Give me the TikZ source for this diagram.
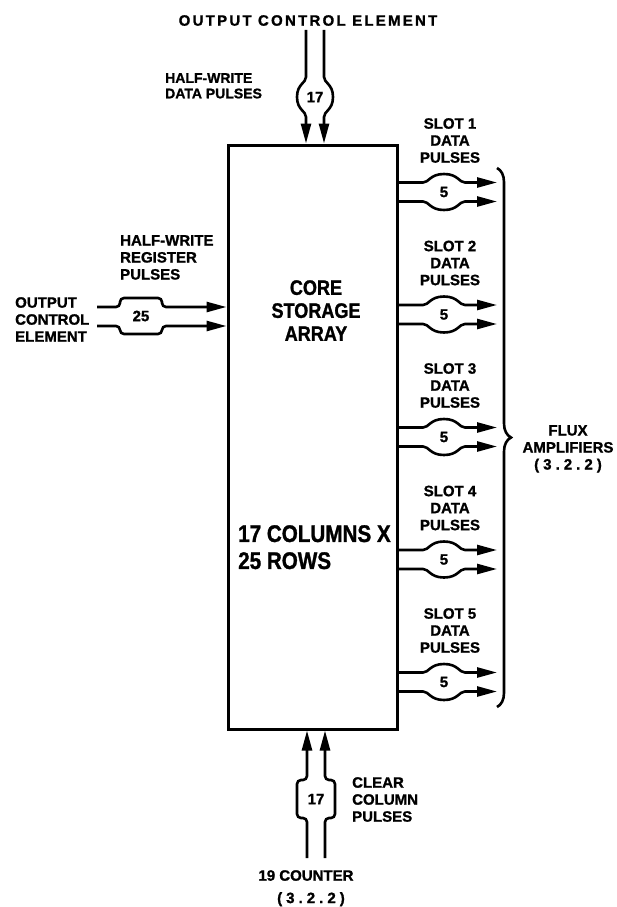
\documentclass[tikz,border=0pt]{standalone}
\usepackage{fontspec}
\setmainfont{Liberation Sans}[BoldFeatures={FakeBold=1.2}]
\newfontfamily\narrowf{Liberation Sans}[FakeStretch=0.86, BoldFeatures={FakeBold=1.2}]
\newfontfamily\spacedf{Liberation Sans}[LetterSpace=15, BoldFeatures={FakeBold=1.2}]
\newfontfamily\widef{Liberation Sans}[LetterSpace=27, BoldFeatures={FakeBold=1.2}]
\usetikzlibrary{arrows.meta,decorations.pathreplacing}
\begin{document}
\begin{tikzpicture}[x=1pt,y=-1pt,
  lab/.style={font=\fontsize{15}{17}\selectfont\bfseries, inner sep=0pt},
  smalllab/.style={font=\fontsize{14}{15.5}\selectfont\bfseries, inner sep=0pt},
  bus/.style={line width=2.6pt, -{Triangle[length=20pt,width=10pt]}},
  boxbus/.style={bus, rounded corners=4pt},
  numtext/.style={inner sep=0pt, font=\fontsize{15}{17}\selectfont\bfseries},
  bigtext/.style={font=\narrowf\fontsize{21}{23}\selectfont\bfseries, inner sep=0pt},
  hugetext/.style={font=\narrowf\fontsize{24}{27}\selectfont\bfseries, inner sep=0pt}
]
\useasboundingbox (0,0) rectangle (616,907);

% main array
\node[draw, line width=3pt, minimum width=169pt, minimum height=584pt, inner sep=0pt] (core) at (312.5,437) {};
\node[bigtext, align=center, anchor=north] (cap) at (316,280) {CORE\\STORAGE\\ARRAY};
\node[hugetext, align=left, anchor=north west] (dim) at (238,525) {17 COLUMNS X\\25 ROWS};

% top bus
\node[lab, anchor=north, font=\spacedf\fontsize{15}{17}\selectfont\bfseries] (title) at (308,15) {OUTPUT CONTROL ELEMENT};
\node[numtext] (n17t) at (315,97) {17};
\coordinate (tA) at (306,30);
\coordinate (tB) at (324,30);
\draw[bus] (tA) -- (306,77) .. controls (306,83) and (297,84) .. (297,97)
  .. controls (297,110) and (306,111) .. (306,117) -- (tA |- core.north);
\draw[bus] (tB) -- (324,77) .. controls (324,83) and (333,84) .. (333,97)
  .. controls (333,110) and (324,111) .. (324,117) -- (tB |- core.north);
\node[smalllab, align=left, anchor=north west] (hwd) at (165,73) {HALF-WRITE\\DATA PULSES};

% left bus
\node[lab, align=left, anchor=north west] (oce) at (15,297) {OUTPUT\\CONTROL\\ELEMENT};
\node[lab, align=left, anchor=north west] (hwr) at (120,235) {HALF-WRITE\\REGISTER\\PULSES};
\node[numtext] (n25) at (141,316) {25};
\coordinate (lA) at (97,307);
\coordinate (lB) at (97,326);
\draw[boxbus] (lA) -- (120,307) -- (120,298) -- (162,298) -- (162,307) -- (lA -| core.west);
\draw[boxbus] (lB) -- (120,326) -- (120,334) -- (162,334) -- (162,326) -- (lB -| core.west);

% right buses
\foreach \i/\y in {1/192,2/314.5,3/437,4/559.5,5/682}{
  \coordinate (rA\i) at (497,{\y-9.5});
  \coordinate (rB\i) at (497,{\y+9.5});
  \node[numtext] (c\i) at (444,\y) {5};
  \draw[bus] (rA\i -| core.east) -- (423,{\y-9.5})
    .. controls (429,{\y-9.5}) and (430,{\y-18}) .. (444,{\y-18})
    .. controls (458,{\y-18}) and (459,{\y-9.5}) .. (465,{\y-9.5}) -- (rA\i);
  \draw[bus] (rB\i -| core.east) -- (423,{\y+9.5})
    .. controls (429,{\y+9.5}) and (430,{\y+18}) .. (444,{\y+18})
    .. controls (458,{\y+18}) and (459,{\y+9.5}) .. (465,{\y+9.5}) -- (rB\i);
  \node[lab, align=center, anchor=north] (sl\i) at (450,{\y-74}) {SLOT \i\\DATA\\PULSES};
}

% brace
\coordinate (brT) at (497,168);
\coordinate (brB) at (497,707);
\draw[line width=2.6pt, decorate, decoration={brace, amplitude=14pt}] (brT) -- (brB);
\node[lab, align=center, anchor=north] (flux) at (568,425) {FLUX\\AMPLIFIERS\\{\widef\bfseries(3.2.2)}};

% bottom bus
\node[numtext] (n17b) at (316,799) {17};
\coordinate (bA) at (307,858);
\coordinate (bB) at (325,858);
\draw[boxbus] (bA) -- (307,818) -- (297,818) -- (297,780) -- (307,780) -- (bA |- core.south);
\draw[boxbus] (bB) -- (325,818) -- (335,818) -- (335,780) -- (325,780) -- (bB |- core.south);
\node[lab, align=left, anchor=north west] (ccp) at (352,777) {CLEAR\\COLUMN\\PULSES};
\node[lab, anchor=north] (cnt) at (306,870) {19 COUNTER};
\node[lab, anchor=north, font=\widef\fontsize{15}{17}\selectfont\bfseries] (ref) at (311,892) {(3.2.2)};
\end{tikzpicture}
\end{document}
